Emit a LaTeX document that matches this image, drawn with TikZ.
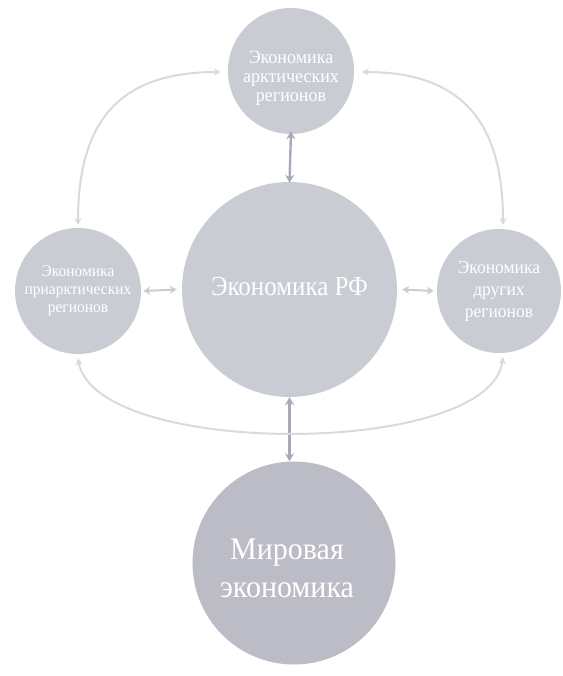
\documentclass[tikz,border=0pt]{standalone}
\usepackage{fontspec}
\setmainfont{Liberation Serif}
\usetikzlibrary{arrows.meta}
\definecolor{ballfill}{HTML}{CACCD4}
\definecolor{ballfilldark}{HTML}{BBBCC5}
\definecolor{linklight}{HTML}{DADADC}
\definecolor{linkmid}{HTML}{A9AAB8}
\newcommand{\tallbox}[2][1.15]{\scalebox{1}[#1]{\begin{tabular}{@{}c@{}}#2\end{tabular}}}
\begin{document}
\begin{tikzpicture}[x=1pt,y=-1pt,
  ball/.style={circle,fill=ballfill,inner sep=0pt,text=white,align=center},
  label text/.style={inner sep=0pt,text=white,align=center},
  softlink/.style={draw=linklight,line width=2pt,{Stealth[length=7pt,width=7pt]}-{Stealth[length=7pt,width=7pt]}},
  mainlink/.style={draw=linkmid,line width=2.4pt,{Stealth[length=8pt,width=9pt]}-{Stealth[length=8pt,width=9pt]}},
  sidelink/.style={draw=linklight!70!linkmid,line width=2pt,{Stealth[length=7pt,width=8pt]}-{Stealth[length=7pt,width=8pt]}}]
\useasboundingbox (0,0) rectangle (562,676);
\node[ball,minimum size=126pt] (top) at (291,71) {};
\node[label text,font=\fontsize{18}{18}\selectfont] (toptext) at (291,79) {\tallbox[1.05]{Экономика\\арктических\\регионов}};
\node[ball,minimum size=126pt,font=\fontsize{15.5}{17}\selectfont] (left) at (78,291) {\tallbox[1.05]{Экономика\\приарктических\\регионов}};
\node[ball,minimum size=124pt,font=\fontsize{17.5}{21}\selectfont] (right) at (499,291) {\tallbox[1.05]{Экономика\\других\\регионов}};
\node[ball,minimum size=215pt,font=\fontsize{25}{28}\selectfont] (center) at (289.5,289.5) {\tallbox[1.1]{Экономика РФ}};
\node[ball,fill=ballfilldark,minimum size=203pt] (bottom) at (294,563) {};
\node[label text,font=\fontsize{30}{36}\selectfont] (bottomtext) at (287,571) {\tallbox[1.05]{Мировая\\экономика}};
\draw[mainlink] ([yshift=3pt]top.south) -- ([yshift=-1pt]center.north);
\draw[mainlink] (center.south) -- (bottom.north -| center.south);
\draw[sidelink] ([xshift=2pt]left.east) -- ([xshift=-5pt]center.west);
\draw[sidelink] ([xshift=5pt]center.east) -- ([xshift=-3pt]right.west);
\coordinate (tlA) at (78,225);
\coordinate (tlB) at (221,72);
\coordinate (trA) at (362,72);
\coordinate (trB) at (503,225);
\coordinate (bA) at (78,358);
\coordinate (bB) at (503,357);
\draw[softlink] (tlA) .. controls (78,120) and (120,72) .. (tlB);
\draw[softlink] (trA) .. controls (460,72) and (503,120) .. (trB);
\draw[softlink] (bA) .. controls (95,458) and (490,458) .. (bB);
\end{tikzpicture}
\end{document}
